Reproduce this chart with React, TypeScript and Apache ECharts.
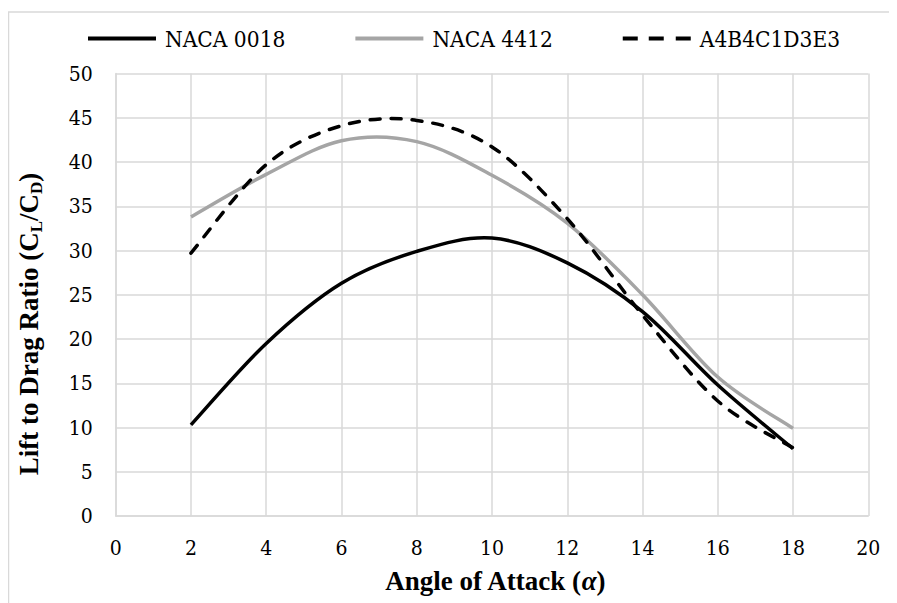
import React, { useEffect, useRef } from "react";
import * as echarts from "echarts";

const angles = [2, 4, 6, 8, 10, 12, 14, 16, 18];
const naca0018 = [10.3, 19.5, 26.3, 29.9, 31.4, 28.6, 23.1, 14.8, 7.6];
const naca4412 = [33.8, 38.6, 42.4, 42.3, 38.5, 33.1, 25.0, 15.7, 9.9];
const a4b4 = [29.7, 39.7, 44.1, 44.7, 41.7, 33.6, 22.7, 13.0, 7.7];
const seriesNames = ["NACA 0018", "NACA 4412", "A4B4C1D3E3"];
const xTitle = "Angle of Attack ";
const yTitle = "Lift to Drag Ratio ";

const FONT = "Liberation Serif";
const LABEL_FONT = "DejaVu Serif Condensed, DejaVu Serif";

const solidIcon = "path://M0,0H68V4H0Z";
const dashIcon = "path://M0,0H15V4H0Z M26,0H41V4H26Z M53,0H68V4H53Z";

function catmullPath(pts: number[][]) {
  const n = pts.length;
  let d = "M" + pts[0][0] + "," + pts[0][1];
  for (let i = 0; i < n - 1; i++) {
    const p0 = pts[Math.max(0, i - 1)];
    const p1 = pts[i];
    const p2 = pts[i + 1];
    const p3 = pts[Math.min(n - 1, i + 2)];
    const c1x = p1[0] + (p2[0] - p0[0]) / 6;
    const c1y = p1[1] + (p2[1] - p0[1]) / 6;
    const c2x = p2[0] - (p3[0] - p1[0]) / 6;
    const c2y = p2[1] - (p3[1] - p1[1]) / 6;
    d += " C" + c1x + "," + c1y + " " + c2x + "," + c2y + " " + p2[0] + "," + p2[1];
  }
  return d;
}

function curveSeries(name: string, ys: number[], color: string, dash: number[] | null, z: number) {
  return {
    name,
    type: "custom",
    coordinateSystem: "cartesian2d",
    data: angles.map((x, i) => [x, ys[i]]),
    encode: { x: 0, y: 1 },
    itemStyle: { color },
    z,
    renderItem: (params: any, api: any) => {
      if (params.dataIndex !== 0) return { type: "group", children: [] };
      const pts = angles.map((x, i) => api.coord([x, ys[i]]));
      return {
        type: "path",
        shape: { pathData: catmullPath(pts) },
        style: {
          fill: "none",
          stroke: color,
          lineWidth: 3.5,
          lineDash: dash || undefined,
          lineCap: dash ? "round" : "butt",
          lineJoin: "round",
        },
      };
    },
  };
}

export default function App() {
  const ref = useRef<HTMLDivElement>(null);
  useEffect(() => {
    if (!ref.current) return;
    const chart = echarts.init(ref.current, null, { renderer: "svg" });
    chart.setOption({
      animation: false,
      backgroundColor: "#fff",
      legend: {
        left: 75,
        top: 14,
        itemWidth: 68,
        itemHeight: 4,
        itemGap: 70,
        symbolKeepAspect: false,
        textStyle: {
          fontFamily: LABEL_FONT,
          fontSize: 22.5,
          color: "#000",
          padding: [0, 0, 0, 4],
        },
        data: [
          { name: seriesNames[0], icon: solidIcon, itemStyle: { color: "#000" } },
          { name: seriesNames[1], icon: solidIcon, itemStyle: { color: "#a5a5a5" } },
          { name: seriesNames[2], icon: dashIcon, itemStyle: { color: "#000" } },
        ],
      },
      grid: { left: 107.7, top: 65.5, right: 28.7, bottom: 87, containLabel: false },
      xAxis: {
        type: "value",
        min: 0,
        max: 20,
        interval: 2,
        axisLine: { show: true, lineStyle: { color: "#d9d9d9", width: 1.5 } },
        axisTick: { show: false },
        axisLabel: { fontFamily: LABEL_FONT, fontSize: 21, color: "#000", margin: 21 },
        splitLine: { show: true, lineStyle: { color: "#d9d9d9", width: 1.5 } },
      },
      yAxis: {
        type: "value",
        min: 0,
        max: 50,
        interval: 5,
        axisLine: { show: true, lineStyle: { color: "#d9d9d9", width: 1.5 } },
        axisTick: { show: false },
        axisLabel: { fontFamily: LABEL_FONT, fontSize: 21, color: "#000", margin: 23 },
        splitLine: { show: true, lineStyle: { color: "#d9d9d9", width: 1.5 } },
      },
      graphic: [
        {
          type: "rect",
          shape: { x: 0.5, y: 4, width: 2000, height: 2000 },
          style: { fill: "none", stroke: "#d9d9d9", lineWidth: 1.5 },
          silent: true,
          z: -10,
        },
        {
          type: "text",
          x: 487,
          y: 573,
          style: {
            text: "{b|" + xTitle + "(}{a|α}{b|)}",
            align: "center",
            verticalAlign: "middle",
            rich: {
              b: { fontFamily: FONT, fontSize: 27, fontWeight: "bold", fill: "#000" },
              a: { fontFamily: FONT, fontSize: 27, fontWeight: "bold", fontStyle: "italic", fill: "#000" },
            },
          },
        },
        {
          type: "text",
          x: 20.5,
          y: 316,
          rotation: Math.PI / 2,
          style: {
            text: "{b|" + yTitle + "(C}{s|L}{b|/C}{s|D}{b|)}",
            align: "center",
            verticalAlign: "middle",
            rich: {
              b: { fontFamily: FONT, fontSize: 27, fontWeight: "bold", fill: "#000", lineHeight: 33 },
              s: { fontFamily: FONT, fontSize: 17, fontWeight: "bold", fill: "#000", lineHeight: 17, verticalAlign: "bottom" },
            },
          },
        },
      ],
      series: [
        curveSeries(seriesNames[0], naca0018, "#000", null, 3),
        curveSeries(seriesNames[1], naca4412, "#a5a5a5", null, 2),
        curveSeries(seriesNames[2], a4b4, "#000", [10, 11], 4),
      ],
    });
    return () => chart.dispose();
  }, []);
  return <div ref={ref} style={{ width: 889, height: 595 }} />;
}
